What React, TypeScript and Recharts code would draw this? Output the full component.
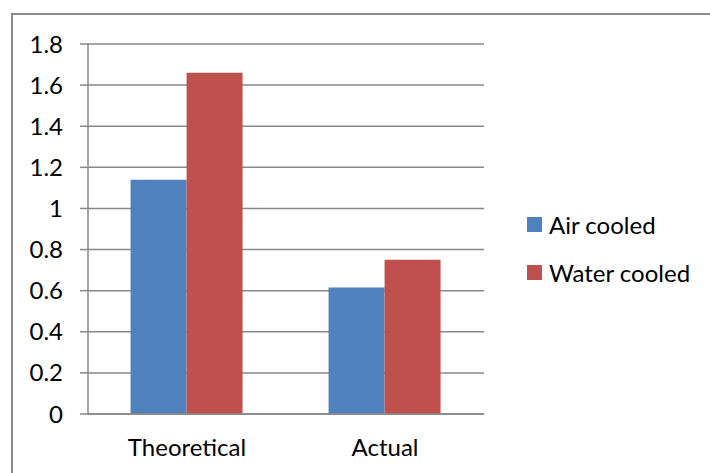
import { BarChart, Bar, XAxis, YAxis, CartesianGrid, Legend } from 'recharts'

const categories = ['Theoretical', 'Actual']
const airCooled = [1.14, 0.615]
const waterCooled = [1.66, 0.75]
const yTicks = [0, 0.2, 0.4, 0.6, 0.8, 1, 1.2, 1.4, 1.6, 1.8]

const BLUE = '#4F81BD'
const RED = '#C0504D'
const GRID = '#888888'
const FONT = 'Lato, "Open Sans", sans-serif'
const FONT_SIZE = 24

const data = categories.map((name, i) => ({
  name,
  air: airCooled[i],
  water: waterCooled[i],
}))

function LegendBox({ payload }: { payload?: { value: string; color: string }[] }) {
  return (
    <div style={{ fontFamily: FONT, fontSize: FONT_SIZE, color: '#000' }}>
      {(payload || []).map(item => (
        <div key={item.value} style={{ display: 'flex', alignItems: 'center', height: 48 }}>
          <span style={{ width: 15, height: 15, background: item.color, marginRight: 7, display: 'inline-block' }} />
          <span>{item.value}</span>
        </div>
      ))}
    </div>
  )
}

export default function App() {
  return (
    <div
      style={{
        position: 'absolute',
        left: 0,
        top: 0,
        width: 710,
        height: 473,
        overflow: 'hidden',
        background: '#fff',
      }}
    >
      <div
        style={{
          position: 'absolute',
          left: 11,
          top: 13,
          width: 720,
          height: 500,
          border: '2px solid #8a8a8a',
          boxSizing: 'border-box',
        }}
      />
      <div style={{ position: 'absolute', left: 0, top: 0 }}>
        <BarChart
          width={710}
          height={473}
          data={data}
          margin={{ top: 44, right: 226, bottom: 19, left: 0 }}
          barCategoryGap="21.5%"
          barGap={0}
        >
          <CartesianGrid vertical={false} stroke={GRID} strokeWidth={1.5} />
          <XAxis
            xAxisId="edges"
            type="number"
            domain={[0, 2]}
            ticks={[0, 1, 2]}
            tick={false}
            tickSize={8}
            axisLine={false}
            tickLine={{ stroke: GRID, strokeWidth: 1.5 }}
            height={0}
          />
          <XAxis
            dataKey="name"
            tickLine={false}
            tickSize={8}
            tickMargin={17}
            axisLine={{ stroke: GRID, strokeWidth: 1.5 }}
            tick={{ fill: '#000', fontSize: FONT_SIZE, fontFamily: FONT }}
            height={40}
          />
          <YAxis
            domain={[0, 1.8]}
            ticks={yTicks}
            width={88}
            tickSize={8}
            tickMargin={17}
            axisLine={{ stroke: GRID, strokeWidth: 1.5 }}
            tickLine={{ stroke: GRID, strokeWidth: 1.5 }}
            tick={{ fill: '#000', fontSize: FONT_SIZE, fontFamily: FONT }}
          />
          <Legend
            layout="vertical"
            align="center"
            verticalAlign="middle"
            wrapperStyle={{ left: 527, top: 200, width: 180 }}
            content={<LegendBox />}
          />
          <Bar dataKey="air" name="Air cooled" fill={BLUE} isAnimationActive={false} />
          <Bar dataKey="water" name="Water cooled" fill={RED} isAnimationActive={false} />
        </BarChart>
      </div>
    </div>
  )
}
